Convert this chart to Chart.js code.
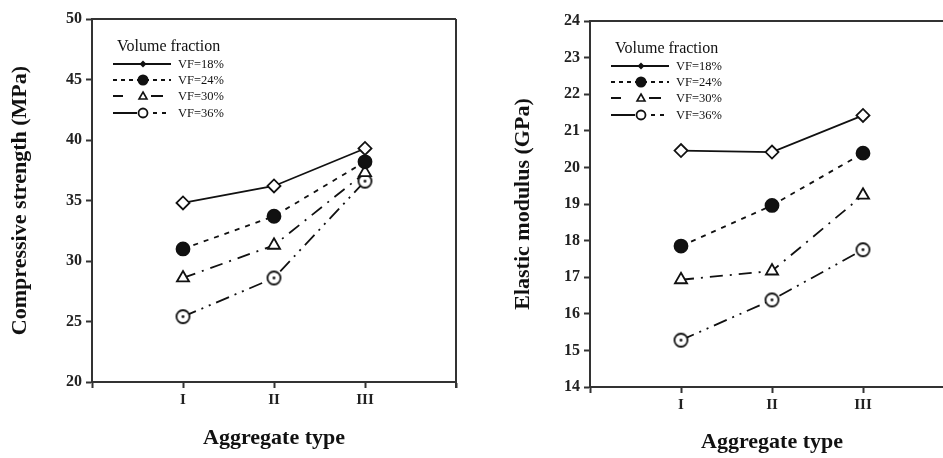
<!DOCTYPE html>
<html>
<head>
<meta charset="utf-8">
<script src="https://cdn.jsdelivr.net/npm/chart.js@4"></script>
<style>
  html, body { margin: 0; padding: 0; background: #fff; overflow: hidden; }
  #wrap { position: relative; width: 943px; height: 458px; overflow: hidden; }
  .box { position: absolute; top: 0; height: 458px; }
  #leftBox { left: 0; width: 480px; }
  #rightBox { left: 480px; width: 500px; }
</style>
</head>
<body>
<div id="wrap">
  <div class="box" id="leftBox"><canvas id="strengthChart"></canvas></div>
  <div class="box" id="rightBox"><canvas id="modulusChart"></canvas></div>
</div>
<script>
// Aggregate types on the x axis
const categories = ['I', 'II', 'III'];
const seriesLabels = ['VF=18%', 'VF=24%', 'VF=30%', 'VF=36%'];

// Compressive strength (MPa)
const strengthVF18 = [34.8, 36.2, 39.3];
const strengthVF24 = [31.0, 33.7, 38.2];
const strengthVF30 = [28.6, 31.3, 37.3];
const strengthVF36 = [25.4, 28.6, 36.6];

// Elastic modulus (GPa)
const modulusVF18 = [20.46, 20.42, 21.42];
const modulusVF24 = [17.85, 18.96, 20.39];
const modulusVF30 = [16.93, 17.17, 19.24];
const modulusVF36 = [15.28, 16.38, 17.75];

const ink = '#111';
const axisColor = '#333';
const serif = "'Liberation Serif', 'Times New Roman', serif";

// open circle with a dot in the middle
function dotCircle(r) {
  const c = document.createElement('canvas');
  const s = r * 2 + 4;
  c.width = s; c.height = s;
  const g = c.getContext('2d');
  g.strokeStyle = ink;
  g.lineWidth = 1.8;
  g.fillStyle = '#fff';
  g.beginPath();
  g.arc(s / 2, s / 2, r, 0, Math.PI * 2);
  g.fill();
  g.stroke();
  g.fillStyle = ink;
  g.beginPath();
  g.arc(s / 2, s / 2, 1.4, 0, Math.PI * 2);
  g.fill();
  return c;
}

const styles = [
  { dash: [], pointStyle: 'rectRot', radius: 6.5, fill: '#fff' },
  { dash: [5, 6], pointStyle: 'circle', radius: 6.5, fill: ink },
  { dash: [13, 7, 2, 7], pointStyle: 'triangle', radius: 7, fill: '#fff' },
  { dash: [14, 6, 2, 6, 2, 6], pointStyle: dotCircle(6.5), radius: 6.5, fill: '#fff' }
];

function toPoints(values) {
  return values.map((v, i) => ({ x: i + 1, y: v }));
}

function makeDatasets(series) {
  return series.map((values, i) => ({
    label: seriesLabels[i],
    data: toPoints(values),
    borderColor: ink,
    borderWidth: 1.8,
    borderDash: styles[i].dash,
    pointStyle: styles[i].pointStyle,
    pointRadius: styles[i].radius,
    pointBackgroundColor: styles[i].fill,
    pointBorderColor: ink,
    pointBorderWidth: 1.8,
    tension: 0
  }));
}

// frame lines and the in-plot legend
const framePlugin = {
  id: 'frameLegend',
  afterDraw(chart, args, opts) {
    const ctx = chart.ctx;
    const a = chart.chartArea;
    ctx.save();
    ctx.strokeStyle = axisColor;
    ctx.lineWidth = 2;
    ctx.beginPath();
    ctx.moveTo(a.left, a.top);
    ctx.lineTo(a.right, a.top);
    if (opts.rightEdge) {
      ctx.moveTo(a.right, a.top);
      ctx.lineTo(a.right, a.bottom + 6);
    }
    ctx.stroke();

    // legend
    const x0 = a.left + 21;
    ctx.fillStyle = ink;
    ctx.font = '16px ' + serif;
    ctx.textBaseline = 'middle';
    ctx.textAlign = 'left';
    ctx.fillText('Volume fraction', x0 + 4, a.top + 28);
    const rows = [45, 61, 77, 94];
    ctx.font = '12.5px ' + serif;
    rows.forEach((dy, i) => {
      const y = a.top + dy;
      const mx = x0 + 30;
      ctx.strokeStyle = ink;
      ctx.lineWidth = 2;
      ctx.beginPath();
      if (i === 0) {
        ctx.setLineDash([]);
        ctx.moveTo(x0, y); ctx.lineTo(x0 + 58, y);
        ctx.stroke();
      } else if (i === 1) {
        ctx.setLineDash([4, 4]);
        ctx.moveTo(x0, y); ctx.lineTo(x0 + 58, y);
        ctx.stroke();
      } else if (i === 2) {
        ctx.setLineDash([]);
        ctx.moveTo(x0, y); ctx.lineTo(x0 + 10, y);
        ctx.moveTo(x0 + 38, y); ctx.lineTo(x0 + 50, y);
        ctx.stroke();
      } else {
        ctx.setLineDash([]);
        ctx.moveTo(x0, y); ctx.lineTo(x0 + 24, y);
        ctx.stroke();
        ctx.setLineDash([4, 5]);
        ctx.beginPath();
        ctx.moveTo(x0 + 40, y); ctx.lineTo(x0 + 58, y);
        ctx.stroke();
      }
      ctx.setLineDash([]);
      // marker
      ctx.fillStyle = ink;
      ctx.beginPath();
      if (i === 0) {
        ctx.moveTo(mx, y - 3.5); ctx.lineTo(mx + 3.5, y);
        ctx.lineTo(mx, y + 3.5); ctx.lineTo(mx - 3.5, y);
        ctx.closePath(); ctx.fill();
      } else if (i === 1) {
        ctx.arc(mx, y, 5.5, 0, Math.PI * 2); ctx.fill();
      } else if (i === 2) {
        ctx.lineWidth = 1.6;
        ctx.moveTo(mx, y - 4); ctx.lineTo(mx + 4, y + 3); ctx.lineTo(mx - 4, y + 3);
        ctx.closePath(); ctx.stroke();
      } else {
        ctx.lineWidth = 1.8;
        ctx.fillStyle = '#fff';
        ctx.arc(mx, y, 4.5, 0, Math.PI * 2); ctx.fill(); ctx.stroke();
      }
      ctx.fillStyle = ink;
      ctx.fillText(seriesLabels[i], x0 + 65, y + 0.5);
    });
    ctx.restore();
  }
};

function makeChart(id, series, yMin, yMax, yStep, yTitle, layout) {
  return new Chart(document.getElementById(id), {
    type: 'line',
    data: { datasets: makeDatasets(series) },
    options: {
      responsive: true,
      maintainAspectRatio: false,
      animation: false,
      layout: { padding: { top: layout.top, right: layout.right, left: 0, bottom: 0 } },
      plugins: {
        legend: { display: false },
        tooltip: { enabled: false },
        frameLegend: { rightEdge: layout.rightEdge }
      },
      scales: {
        x: {
          type: 'linear',
          min: 0,
          max: 4,
          afterFit(scale) { scale.height = layout.xHeight; },
          ticks: {
            stepSize: 1,
            autoSkip: false,
            maxRotation: 0,
            padding: 3,
            color: '#222',
            font: { family: serif, size: 15, weight: 'bold' },
            callback: v => categories[v - 1] || ''
          },
          grid: { drawOnChartArea: false, drawTicks: true, tickLength: 6, tickWidth: 2, tickColor: axisColor },
          border: { display: true, color: axisColor, width: 2 },
          title: {
            display: true,
            text: 'Aggregate type',
            color: ink,
            font: { family: serif, size: 22, weight: 'bold' },
            padding: { top: 0, bottom: layout.xTitlePad }
          }
        },
        y: {
          min: yMin,
          max: yMax,
          afterFit(scale) { scale.width = layout.yWidth; },
          ticks: {
            stepSize: yStep,
            padding: 4,
            color: '#222',
            font: { family: serif, size: 16, weight: 'bold' }
          },
          grid: { drawOnChartArea: false, drawTicks: true, tickLength: 6, tickWidth: 2, tickColor: axisColor },
          border: { display: true, color: axisColor, width: 2 },
          title: {
            display: true,
            text: yTitle,
            color: ink,
            font: { family: serif, size: 22, weight: 'bold' },
            padding: { top: layout.yTitlePad, bottom: 0 }
          }
        }
      }
    },
    plugins: [framePlugin]
  });
}

makeChart('strengthChart',
  [strengthVF18, strengthVF24, strengthVF30, strengthVF36],
  20, 50, 5, 'Compressive strength (MPa)',
  { top: 19, right: 24, yWidth: 92, xHeight: 76, xTitlePad: 6, yTitlePad: 7, rightEdge: true });

makeChart('modulusChart',
  [modulusVF18, modulusVF24, modulusVF30, modulusVF36],
  14, 24, 1, 'Elastic modulus (GPa)',
  { top: 21, right: 26, yWidth: 110, xHeight: 71, xTitlePad: 2, yTitlePad: 30, rightEdge: false });
</script>
</body>
</html>
